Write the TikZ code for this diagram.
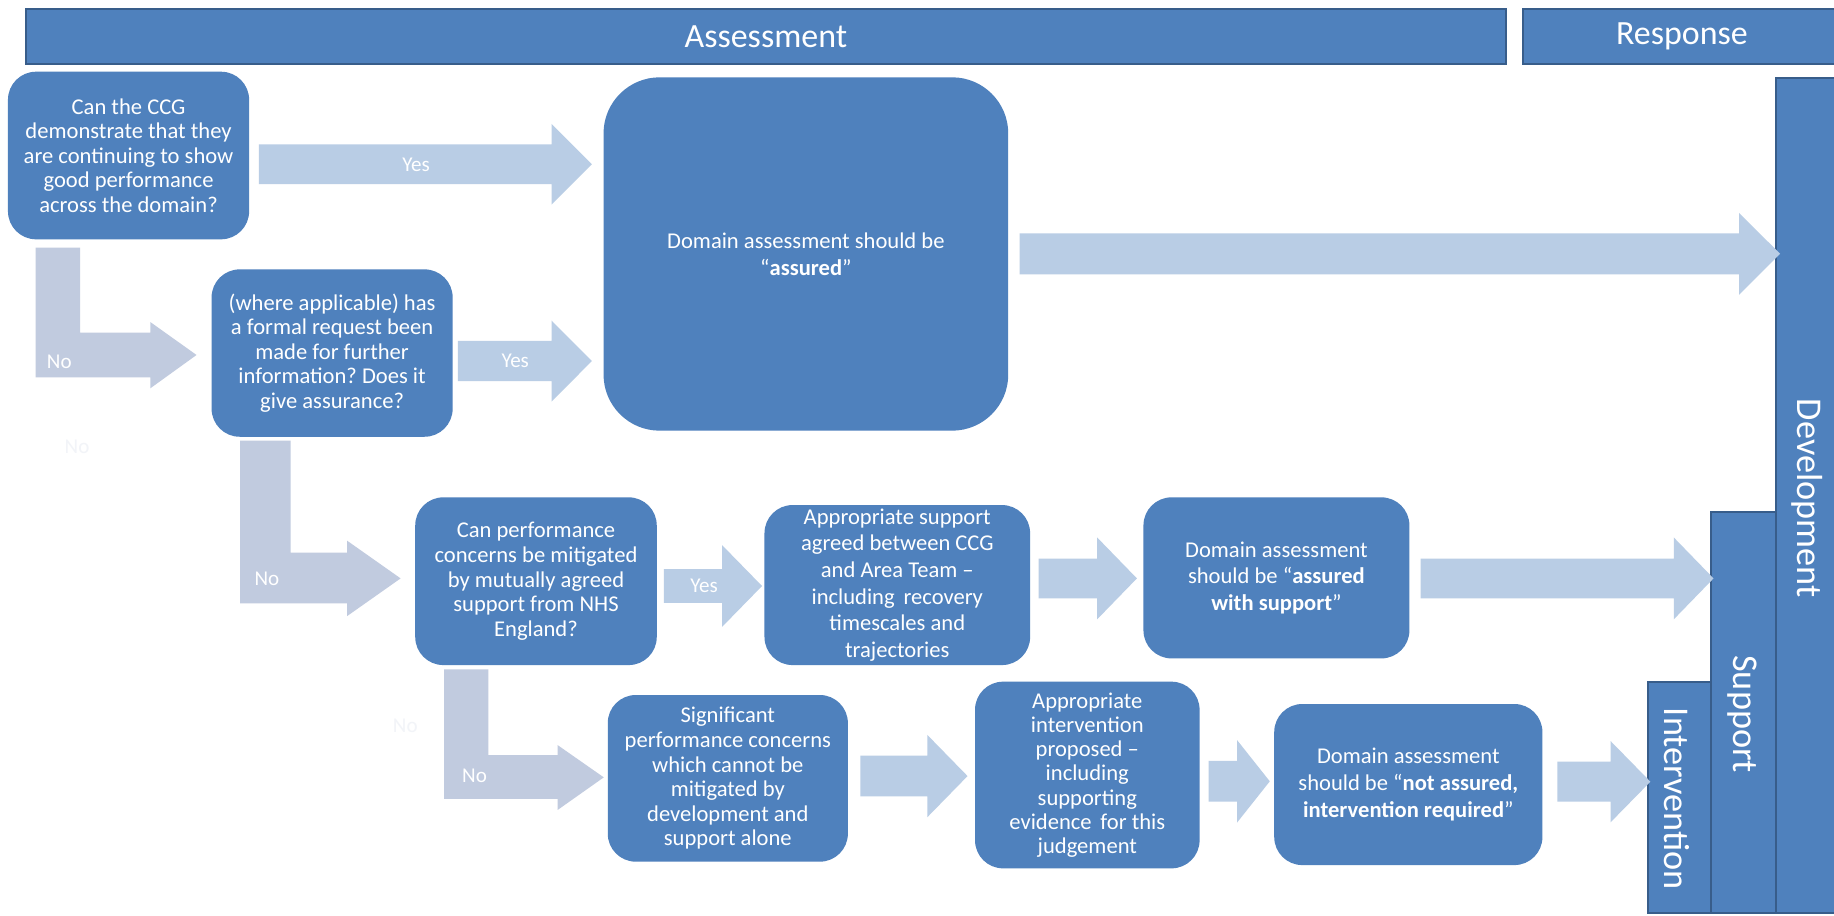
\documentclass[tikz,border=0pt]{standalone}
\usepackage{fontspec}
\setmainfont{Carlito}
\frenchspacing
\definecolor{boxblue}{HTML}{4F81BD}
\definecolor{barline}{HTML}{385D8A}
\definecolor{arrowblue}{HTML}{B9CDE5}
\definecolor{arrowgray}{HTML}{C1CBDF}
\definecolor{faintno}{HTML}{F2F4F8}
\newcommand\blockarr[7]{\fill[#1] (#2,#5-#6) -- (#3,#5-#6) -- (#3,#5-#7) -- (#4,#5) -- (#3,#5+#7) -- (#3,#5+#6) -- (#2,#5+#6) -- cycle;}
\begin{document}
\begin{tikzpicture}[x=1pt,y=-1pt,
  box/.style={fill=boxblue, draw=none, rounded corners=24pt, text=white, align=center, inner sep=0pt, font=\fontsize{19.3}{21}\selectfont},
  boxwide/.style={box, font=\fontsize{19.3}{22.8}\selectfont},
  bar/.style={fill=boxblue, draw=barline, line width=1.5pt},
  bartext/.style={text=white, inner sep=0pt, font=\fontsize{29}{30}\selectfont},
  vtext/.style={text=white, inner sep=0pt, rotate=-90, font=\fontsize{31}{32}\selectfont},
  arrowlabel/.style={text=white, inner sep=0pt, font=\fontsize{18}{20}\selectfont},
  faintlabel/.style={text=faintno, inner sep=0pt, font=\fontsize{18}{20}\selectfont}]
\useasboundingbox (0,0) rectangle (1568,782.3);
\fill[white] (0,0) rectangle (1568,782.3);

% top bars
\draw[bar] (22,7.7) rectangle (1287.6,55);
\node[bartext] (assess) at (654.8,31.5) {Assessment};
\draw[bar] (1302,7.7) rectangle (1580,55);
\node[bartext] (resp) at (1438,31.5) {Response};

% right vertical bars
\draw[bar] (1518.5,67) rectangle (1580,780.5);
\node[vtext] (dev) at (1545,426) {Development};
\draw[bar] (1463,437.5) rectangle (1518.5,780.5);
\node[vtext] (sup) at (1490,610.6) {Support};
\draw[bar] (1408.8,582.8) rectangle (1463,780.5);
\node[vtext] (int) at (1434,683) {Intervention};

% block arrows
\blockarr{arrowblue}{221.4}{471.6}{506}{140.4}{17}{34.5}
\blockarr{arrowblue}{391.5}{471.6}{506}{308.7}{17.2}{34.6}
\blockarr{arrowblue}{871.8}{1486.8}{1521.9}{217}{17.5}{35}
\blockarr{arrowblue}{567.6}{617.3}{651.5}{501}{14.5}{35}
\blockarr{arrowblue}{888}{938}{972}{494.5}{17}{35}
\blockarr{arrowblue}{1214.6}{1431}{1465}{494.5}{17}{35}
\blockarr{arrowblue}{735.5}{792.8}{827.2}{663.5}{17.4}{35.2}
\blockarr{arrowblue}{1033.3}{1057.6}{1085.6}{668}{17.4}{35.3}
\blockarr{arrowblue}{1331.4}{1377}{1411}{668.3}{17.1}{34.7}

% L-shaped arrows
\fill[arrowgray] (30.4,211.8) -- (68.6,211.8) -- (68.6,284.4) -- (128.5,284.4) -- (128.5,275.3) -- (168,303.5) -- (128.5,332) -- (128.5,322.6) -- (30.4,322.6) -- cycle;
\fill[arrowgray] (205.2,376.8) -- (248.5,376.8) -- (248.5,472.5) -- (296.8,472.5) -- (296.8,462.3) -- (342.5,494.5) -- (296.8,526.7) -- (296.8,515.8) -- (205.2,515.8) -- cycle;
\fill[arrowgray] (379.6,572.3) -- (417.5,572.3) -- (417.5,645.5) -- (476.7,645.5) -- (476.7,637) -- (516.2,664.6) -- (476.7,692.5) -- (476.7,683.1) -- (379.6,683.1) -- cycle;

% arrow labels
\node[arrowlabel] (yes1) at (355.7,140.5) {Yes};
\node[arrowlabel] (yes2) at (440.5,308.7) {Yes};
\node[arrowlabel] (yes3) at (601.9,500.5) {Yes};
\node[arrowlabel] (no1) at (50.7,309) {No};
\node[arrowlabel] (no2) at (228.2,494.5) {No};
\node[arrowlabel] (no3) at (405.7,663.5) {No};
\node[faintlabel] (fno1) at (65.9,382) {No};
\node[faintlabel] (fno2) at (346.5,620.7) {No};

% boxes
\node[box, minimum width=206.2pt, minimum height=143.3pt] (b1) at (109.9,132.95)
  {Can the CCG\\demonstrate that they\\are continuing to show\\good performance\\across the domain?};
\node[box, minimum width=206.1pt, minimum height=143.1pt] (b2) at (283.95,301.85)
  {(where applicable) has\\a formal request been\\made for further\\information? Does it\\give assurance?};
\node[boxwide, rounded corners=48pt, minimum width=346pt, minimum height=302.1pt] (ba) at (689,217.15)
  {Domain assessment should be\\“\textbf{assured}”};
\node[box, minimum width=206.5pt, minimum height=143.4pt] (b3) at (458.25,496.9)
  {Can performance\\concerns be mitigated\\by mutually agreed\\support from NHS\\England?};
\node[boxwide, minimum width=227.1pt, minimum height=136.8pt] (b5) at (767.15,500.2)
  {Appropriate support\\agreed between CCG\\and Area Team –\\including\, recovery\\timescales and\\trajectories};
\node[boxwide, minimum width=227.4pt, minimum height=137.7pt] (b6) at (1091.3,494.05)
  {Domain assessment\\should be “\textbf{assured}\\\textbf{with support}”};
\node[box, minimum width=205.3pt, minimum height=142.5pt] (b4) at (622.25,665.45)
  {Significant\\performance concerns\\which cannot be\\mitigated by\\development and\\support alone};
\node[box, font=\fontsize{19.3}{20.7}\selectfont, minimum width=192pt, minimum height=159.6pt] (b7) at (929.6,662.6)
  {Appropriate\\intervention\\proposed –\\including\\supporting\\evidence\, for this\\judgement};
\node[boxwide, minimum width=229.3pt, minimum height=137.7pt] (b8) at (1204.05,670.75)
  {Domain assessment\\should be “\textbf{not assured,}\\\textbf{intervention required}”};
\end{tikzpicture}
\end{document}
